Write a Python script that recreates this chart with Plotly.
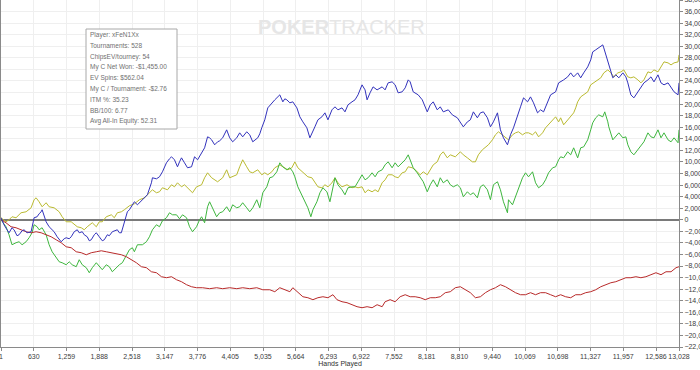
import plotly.graph_objects as go

# ---------------- data ----------------
x_tick_vals = [1, 630, 1259, 1888, 2518, 3147, 3776, 4405, 5035, 5664, 6293, 6922,
               7552, 8181, 8810, 9440, 10069, 10698, 11327, 11957, 12586, 13028]
x_tick_text = [f"{v:,}" for v in x_tick_vals]

blue_hands = [1, 58, 117, 155, 213, 252, 309, 348, 406, 444, 502, 579, 637, 695, 733, 772, 791, 830, 868, 926,
              984, 1022, 1080, 1119, 1157, 1215, 1254, 1311, 1350, 1408, 1466, 1504, 1562, 1600, 1658, 1697, 1735,
              1793, 1832, 1889, 1947, 1986, 2044, 2082, 2140, 2236, 2275, 2313, 2371, 2429, 2468, 2506, 2564, 2622,
              2660, 2718, 2757, 2814, 2891, 2911, 2988, 3046, 3103, 3180, 3238, 3277, 3334, 3392, 3431, 3469, 3527,
              3585, 3662, 3720, 3778, 3855, 3913, 3970, 4009, 4048, 4106, 4163, 4202, 4260, 4337, 4395, 4452, 4530,
              4587, 4645, 4722, 4780, 4838, 4934, 4973, 5011, 5069, 5127, 5204, 5262, 5358, 5416, 5454, 5493, 5551,
              5608, 5686, 5743, 5801, 5878, 5936, 5974, 6032, 6090, 6167, 6225, 6283, 6360, 6418, 6475, 6553, 6610,
              6668, 6745, 6803, 6861, 6938, 6996, 7035, 7092, 7150, 7227, 7324, 7381, 7439, 7516, 7574, 7632, 7709,
              7767, 7825, 7863, 7921, 8017, 8095, 8191, 8249, 8306, 8383, 8441, 8499, 8595, 8673, 8769, 8827, 8884,
              8962, 9019, 9077, 9154, 9212, 9270, 9347, 9405, 9462, 9540, 9597, 9655, 9732, 9790, 9848, 9925, 9983,
              10041, 10118, 10175, 10233, 10310, 10368, 10426, 10503, 10561, 10657, 10715, 10812, 10889, 10947, 11004,
              11081, 11139, 11197, 11274, 11332, 11370, 11428, 11486, 11563, 11583, 11621, 11679, 11718, 11756, 11814,
              11872, 11949, 12007, 12045, 12103, 12161, 12238, 12296, 12354, 12431, 12489, 12547, 12624, 12682, 12740,
              12817, 12875, 12933, 13010, 13028]
blue_chips = [350, -860, -1730, -2250, -1380, -1730, -2760, -2590, -1900, -1730, -2250, -2070, 350, 520, 1040, 1380,
              1730, 690, -350, -1210, -1730, -2070, -2940, -3460, -3800, -3280, -3110, -3280, -2940, -2070, -1730,
              -2250, -2070, -2590, -2940, -3630, -3460, -2590, -2250, -2940, -3630, -3460, -2590, -2760, -2070, -1730,
              -2250, -2250, -520, 1380, 1730, 2250, 3110, 2590, 2940, 3460, 3970, 4320, 6390, 7260, 7080, 7430, 8290,
              9850, 10540, 10890, 10370, 9160, 10020, 10710, 9850, 8990, 9160, 10890, 10370, 11580, 12440, 14340,
              14170, 13820, 12960, 13480, 13650, 14170, 15550, 14170, 13480, 14170, 15030, 14340, 15210, 14690, 13480,
              14170, 14860, 15900, 17280, 19350, 20220, 20740, 21600, 20390, 20910, 20740, 20220, 20390, 19350, 17800,
              16930, 15900, 14170, 15030, 16070, 17280, 17800, 18490, 17280, 19010, 19530, 19010, 19350, 18660, 19870,
              20390, 20740, 21600, 23330, 22460, 20740, 21950, 22980, 22460, 22980, 22460, 23670, 23850, 23330, 21950,
              22120, 22810, 24190, 23850, 22120, 21600, 20740, 18660, 19870, 20390, 19010, 19530, 18660, 19010, 18140,
              17630, 16760, 16070, 16930, 17280, 18660, 17630, 18490, 18660, 17630, 16070, 16930, 18490, 15550, 14170,
              12960, 14690, 15900, 17800, 19530, 21080, 20390, 21250, 20220, 18490, 19010, 18660, 20220, 21600, 22120,
              23670, 24190, 24710, 25400, 24710, 25400, 24540, 25400, 26440, 27650, 29030, 29380, 29720, 30240, 29720,
              28510, 27130, 25570, 24540, 25060, 24540, 25400, 24710, 23670, 21600, 21080, 22120, 22980, 23670, 24190,
              24710, 23850, 25060, 23670, 23330, 23670, 22810, 22120, 21600, 23670]

yellow_hands = [1, 97, 155, 213, 290, 386, 483, 579, 637, 675, 733, 791, 868, 926, 1022, 1119, 1176, 1254, 1350, 1408,
                1466, 1543, 1600, 1658, 1755, 1832, 1889, 1947, 2024, 2121, 2178, 2236, 2313, 2371, 2468, 2564, 2660,
                2757, 2853, 2911, 2988, 3046, 3103, 3200, 3277, 3334, 3392, 3469, 3527, 3624, 3681, 3758, 3855, 3913,
                3970, 4048, 4106, 4163, 4260, 4337, 4395, 4452, 4530, 4587, 4645, 4722, 4780, 4838, 4934, 5011, 5069,
                5127, 5204, 5262, 5358, 5416, 5512, 5589, 5647, 5705, 5782, 5840, 5897, 5974, 6032, 6090, 6167, 6225,
                6283, 6360, 6418, 6475, 6553, 6649, 6745, 6803, 6861, 6938, 6996, 7054, 7131, 7189, 7247, 7324, 7381,
                7439, 7516, 7574, 7632, 7709, 7767, 7825, 7902, 7959, 8056, 8114, 8191, 8249, 8306, 8383, 8441, 8499,
                8576, 8634, 8730, 8827, 8884, 8962, 9058, 9116, 9173, 9250, 9308, 9366, 9443, 9501, 9559, 9636, 9694,
                9752, 9829, 9886, 9944, 10021, 10079, 10137, 10214, 10272, 10330, 10407, 10464, 10522, 10600, 10657,
                10715, 10754, 10812, 10889, 10947, 11004, 11043, 11081, 11139, 11197, 11274, 11332, 11390, 11467, 11525,
                11583, 11660, 11718, 11776, 11853, 11911, 11968, 12045, 12103, 12161, 12238, 12296, 12354, 12431, 12489,
                12547, 12624, 12682, 12740, 12817, 12875, 12933, 13010, 13028]
yellow_chips = [350, -350, 0, 520, 350, 1210, 1380, 2070, 3460, 3800, 3110, 2250, 2940, 2250, 2070, 1380, 520, -350,
                -350, -860, -1210, -1380, -1730, -1210, -520, -1210, -350, -350, 520, 860, 350, 1210, 1380, 1730, 2420,
                2760, 3460, 3800, 4670, 5180, 4670, 4840, 5530, 5180, 6050, 5700, 6390, 5700, 6050, 5180, 4670, 5700,
                6050, 7260, 8120, 7260, 6910, 6570, 7260, 8640, 7260, 7430, 7780, 9160, 10370, 9160, 8290, 8120, 8640,
                7780, 8120, 7780, 8290, 8990, 9500, 9160, 8640, 8990, 10020, 8990, 8290, 7780, 7430, 7260, 6390, 5700,
                5530, 6050, 5700, 6390, 7260, 6390, 5700, 6050, 5530, 5700, 5530, 5700, 4670, 5180, 4840, 5180, 4840,
                6390, 6910, 7780, 7780, 7430, 7260, 8120, 8290, 9160, 8990, 8640, 7780, 8290, 7780, 8640, 9500, 10020,
                11230, 11750, 10710, 11230, 10890, 11750, 11230, 10710, 10020, 10020, 11230, 12100, 12610, 12960, 13820,
                14690, 15210, 14690, 14170, 13820, 14690, 15030, 15210, 14690, 15030, 15030, 14690, 15210, 14340, 15030,
                15900, 16420, 17280, 17800, 16930, 17630, 16420, 17280, 17800, 18490, 19350, 20390, 21250, 21600, 22120,
                23330, 23670, 24190, 24540, 25400, 25920, 25400, 24710, 25400, 25570, 25920, 24710, 24540, 24710, 24190,
                23670, 24190, 25570, 25400, 25920, 25570, 26440, 27300, 27130, 26780, 27130, 27300, 28510]

green_hands = [1, 97, 155, 213, 290, 348, 406, 483, 541, 598, 637, 695, 733, 791, 868, 926, 984, 1061, 1119, 1176,
               1254, 1311, 1369, 1446, 1504, 1562, 1639, 1697, 1755, 1832, 1889, 1947, 2024, 2082, 2140, 2217, 2275,
               2333, 2410, 2468, 2525, 2564, 2622, 2718, 2795, 2853, 2911, 2988, 3046, 3103, 3180, 3238, 3296, 3373,
               3431, 3489, 3566, 3624, 3681, 3758, 3816, 3855, 3913, 3970, 4009, 4067, 4144, 4202, 4260, 4337, 4395,
               4452, 4530, 4587, 4645, 4722, 4780, 4838, 4915, 4973, 5031, 5108, 5165, 5223, 5300, 5358, 5416, 5493,
               5551, 5608, 5647, 5705, 5782, 5840, 5897, 5955, 5994, 6071, 6129, 6186, 6263, 6321, 6379, 6418, 6475,
               6553, 6610, 6668, 6745, 6803, 6861, 6938, 6996, 7054, 7131, 7189, 7247, 7324, 7381, 7439, 7516, 7574,
               7632, 7709, 7767, 7825, 7863, 7921, 7998, 8056, 8114, 8191, 8249, 8306, 8383, 8441, 8499, 8576, 8634,
               8692, 8769, 8827, 8884, 8962, 9019, 9077, 9154, 9212, 9270, 9347, 9405, 9462, 9540, 9597, 9655, 9732,
               9752, 9829, 9886, 9944, 10021, 10079, 10137, 10214, 10272, 10330, 10407, 10464, 10522, 10600, 10657,
               10715, 10754, 10812, 10889, 10947, 11004, 11081, 11139, 11197, 11274, 11332, 11370, 11428, 11486, 11563,
               11602, 11660, 11679, 11756, 11814, 11872, 11949, 12007, 12045, 12103, 12161, 12238, 12296, 12354, 12431,
               12489, 12547, 12624, 12682, 12740, 12817, 12875, 12933, 13010, 13028]
green_chips = [0, -1210, -2590, -4320, -3970, -3800, -4320, -3800, -3110, -2250, -860, -1210, -1730, -1380, -2590,
               -4320, -5530, -6570, -7260, -7430, -7780, -7260, -7780, -8120, -6910, -7780, -8290, -9160, -8290, -7430,
               -8120, -8640, -7780, -8120, -8990, -8290, -7780, -7430, -6050, -5180, -4840, -5530, -4320, -4320, -3800,
               -2940, -1730, -860, -1210, -170, 350, 1210, 860, 860, 170, 860, 350, -1210, -2070, -1210, 0, 520, -520,
               2250, 3110, 2070, 520, 1210, 1380, 2250, 1380, 2590, 2070, 2250, 2940, 2070, 1380, 2070, 3460, 2070,
               4670, 5700, 7260, 7430, 8290, 9850, 9160, 8640, 8990, 8290, 7430, 5700, 4320, 3110, 2070, 520, 1730,
               3110, 4670, 5530, 4840, 3110, 5700, 7260, 6050, 5180, 4320, 5530, 5700, 5700, 6570, 7780, 6910, 7260,
               8120, 7430, 8290, 8640, 9500, 10020, 8990, 9850, 9160, 9850, 10370, 11230, 10370, 8990, 8120, 7430,
               6570, 4840, 6050, 6910, 5700, 7260, 6390, 6910, 6050, 5700, 6050, 5530, 3970, 4840, 4320, 4670, 3800,
               5700, 6050, 5180, 3460, 6050, 6570, 5180, 3110, 1210, 3460, 2590, 3970, 5180, 7260, 8120, 7430, 8290,
               6390, 5530, 6050, 6910, 8120, 8990, 9160, 10370, 10890, 10710, 11750, 11230, 12440, 10710, 12440, 12610,
               13820, 15550, 16760, 17630, 18140, 17800, 18660, 16930, 16070, 13820, 14340, 15030, 14170, 14340, 12960,
               11750, 11230, 12100, 12960, 13480, 15030, 14340, 14170, 15550, 14170, 15030, 13820, 13480, 14170, 13310,
               15550]

red_hands = [1, 97, 194, 290, 386, 483, 579, 675, 772, 868, 965, 1061, 1157, 1254, 1350, 1446, 1543, 1639, 1735,
             1832, 1928, 2024, 2121, 2217, 2313, 2410, 2506, 2602, 2699, 2795, 2891, 2988, 3084, 3180, 3277, 3373,
             3469, 3566, 3662, 3758, 3874, 4009, 4144, 4260, 4395, 4530, 4645, 4780, 4915, 5031, 5165, 5262, 5358,
             5454, 5551, 5608, 5705, 5801, 5897, 5994, 6090, 6186, 6283, 6379, 6456, 6553, 6649, 6745, 6842, 6938,
             7035, 7131, 7227, 7324, 7381, 7478, 7574, 7670, 7767, 7863, 7959, 8056, 8152, 8249, 8345, 8441, 8537,
             8634, 8730, 8827, 8923, 9019, 9116, 9212, 9308, 9405, 9501, 9597, 9694, 9790, 9886, 9983, 10079, 10175,
             10272, 10368, 10464, 10561, 10657, 10754, 10850, 10947, 11043, 11139, 11235, 11332, 11428, 11525, 11621,
             11718, 11814, 11911, 12007, 12103, 12200, 12296, 12392, 12489, 12585, 12682, 12778, 12875, 12971, 13028]
red_chips = [0, -520, -1210, -1380, -1730, -2070, -2250, -2070, -2250, -2590, -2940, -3460, -3970, -4670, -4840,
             -5530, -5700, -6050, -5700, -5530, -5360, -5530, -5700, -5880, -6050, -6390, -6910, -7430, -8120, -8290,
             -8990, -9160, -9850, -10020, -9850, -10370, -10710, -11230, -11580, -11750, -11750, -11920, -11750,
             -11920, -11750, -11920, -11750, -11920, -11750, -12100, -12100, -12440, -11750, -12100, -12440, -11750,
             -12610, -13310, -13480, -13820, -13480, -13310, -13480, -12960, -13820, -14170, -14340, -14690, -15030,
             -15210, -15030, -15210, -14690, -15030, -14170, -13820, -14170, -13310, -12960, -13310, -13310, -13480,
             -13820, -13480, -13480, -13310, -12610, -12440, -11750, -11580, -12100, -12610, -13480, -13310, -12610,
             -12100, -11750, -11230, -11580, -12100, -12610, -12960, -12960, -12610, -12960, -12610, -12610, -12960,
             -13310, -12960, -13310, -13480, -12960, -12960, -12610, -12440, -12100, -11580, -11230, -10890, -10710,
             -10370, -10020, -10020, -9850, -10020, -9850, -9500, -9160, -9500, -8990, -8990, -8290, -8120]

stats_lines = ["Player: xFeN1Xx", "Tournaments: 528", "ChipsEV/tourney: 54", "My C Net Won: -$1,455.00",
               "EV Spins: $562.04", "My C / Tournament: -$2.76", "ITM %: 35.23", "BB/100: 6.77",
               "Avg All-In Equity: 52.31"]

# ---------------- figure ----------------
W, H = 700, 370
L, R, T, B = 1, 21, 0, 23
pw, ph = W - L - R, H - T - B

fig = go.Figure()
series = [
    ("EV line", yellow_hands, yellow_chips, "rgb(186,186,48)"),
    ("Showdown", green_hands, green_chips, "rgb(62,182,62)"),
    ("Non-showdown", red_hands, red_chips, "rgb(184,42,42)"),
    ("Net won", blue_hands, blue_chips, "rgb(50,50,188)"),
]
for name, xs, ys, col in series:
    fig.add_trace(go.Scatter(x=xs, y=ys, mode="lines", name=name,
                             line=dict(color=col, width=1), hoverinfo="skip"))

def px_x(px):
    return (px - L) / pw

def px_y(py):
    return 1 - (py - T) / ph

# stats box
fig.add_shape(type="rect", xref="paper", yref="paper",
              x0=px_x(86), x1=px_x(177), y0=px_y(129), y1=px_y(29),
              line=dict(color="#a8a8a8", width=1), fillcolor="white", layer="above")
for i, s in enumerate(stats_lines):
    fig.add_annotation(xref="paper", yref="paper", x=px_x(88), y=px_y(35 + i * 10.8),
                       xanchor="left", yanchor="middle", showarrow=False, text=s,
                       font=dict(family="Liberation Sans, Arial", size=6.5, color="#707070"))

# watermark
fig.add_annotation(xref="paper", yref="paper", x=px_x(341), y=px_y(26.5),
                   xanchor="center", yanchor="middle", showarrow=False,
                   text="<b>POKER</b>TRACKER",
                   font=dict(family="Liberation Sans, Arial", size=20, color="#e6e6e6"))

fig.update_layout(
    width=W, height=H,
    margin=dict(l=L, r=R, t=T, b=B, pad=0),
    paper_bgcolor="white", plot_bgcolor="white",
    showlegend=False,
    font=dict(family="Liberation Sans, Arial", size=7, color="#404040"),
)
fig.update_xaxes(
    range=[1, 13028], tickvals=x_tick_vals, ticktext=x_tick_text, tickangle=0,
    showgrid=True, gridcolor="#efefef", gridwidth=1,
    showline=True, linecolor="#8a8a8a", linewidth=1,
    ticks="outside", ticklen=3, tickcolor="#8a8a8a",
    tickfont=dict(size=7, color="#404040"), ticklabeloverflow="allow",
    title=dict(text="Hands Played", font=dict(size=7, color="#303030"), standoff=1),
    zeroline=False, automargin=False,
)
fig.update_yaxes(
    range=[-22000, 38000], dtick=2000, tick0=0, tickformat=",d",
    side="right", showgrid=True, gridcolor="#efefef", gridwidth=1,
    showline=True, linecolor="#8a8a8a", linewidth=1, mirror=True,
    ticks="outside", ticklen=3, tickcolor="#8a8a8a",
    tickfont=dict(size=7, color="#404040"), ticklabeloverflow="allow",
    zeroline=True, zerolinecolor="#7a7a7a", zerolinewidth=1.5, automargin=False,
)

fig.write_html(
    "out.html",
    config={"displayModeBar": False},
    post_script="document.body.style.margin='0';document.body.style.padding='0';"
                "document.body.style.overflow='hidden';",
)
